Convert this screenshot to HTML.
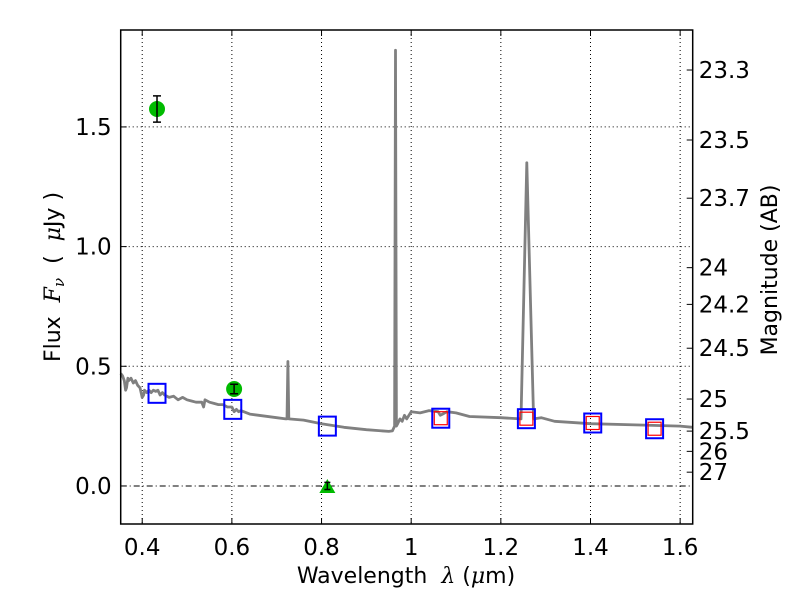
<!DOCTYPE html>
<html><head><meta charset="utf-8"><style>
body{margin:0;background:#fff;}
svg text{font-family:"DejaVu Sans","Liberation Sans",sans-serif;fill:#000;white-space:pre;}
</style></head><body>
<svg id="chart" width="800" height="600" viewBox="0 0 800 600" xmlns="http://www.w3.org/2000/svg">
<rect width="800" height="600" fill="#fff"/>
<g id="grid"></g>
<g id="spec"></g>
<g id="marks"></g>
<g id="axes"></g>
</svg>
<script>
const xTicks=[0.4,0.6,0.8,1.0,1.2,1.4,1.6];
const xTickLabels=["0.4","0.6","0.8","1","1.2","1.4","1.6"];
const yTicks=[0,0.5,1.0,1.5];
const yTickLabels=["0.0","0.5","1.0","1.5"];
const magTicks=[23.3,23.5,23.7,24,24.2,24.5,25,25.5,26,27];
const magTickLabels=["23.3","23.5","23.7","24","24.2","24.5","25","25.5","26","27"];
const specLam=[0.352,0.356,0.36,0.363,0.365,0.368,0.37,0.375,0.38,0.385,0.39,0.395,0.40,0.403,0.405,0.41,0.415,0.42,0.425,0.43,0.435,0.44,0.445,0.45,0.46,0.47,0.48,0.49,0.50,0.51,0.52,0.533,0.537,0.54,0.55,0.56,0.57,0.58,0.59,0.60,0.605,0.61,0.615,0.62,0.64,0.66,0.70,0.72,0.723,0.725,0.727,0.76,0.80,0.85,0.90,0.95,0.958,0.963,0.965,0.967,0.97,0.975,0.98,0.985,0.99,1.0,1.02,1.04,1.06,1.065,1.07,1.08,1.1,1.13,1.2,1.245,1.258,1.273,1.29,1.32,1.4,1.5,1.6,1.628];
const specFlux=[0.47,0.46,0.44,0.40,0.41,0.45,0.44,0.45,0.43,0.44,0.42,0.41,0.37,0.38,0.40,0.39,0.40,0.39,0.40,0.395,0.40,0.38,0.39,0.38,0.37,0.375,0.36,0.37,0.36,0.355,0.35,0.35,0.33,0.36,0.35,0.345,0.34,0.34,0.33,0.33,0.31,0.32,0.31,0.315,0.30,0.295,0.285,0.28,0.28,0.52,0.28,0.275,0.26,0.245,0.235,0.228,0.23,0.25,1.82,0.25,0.26,0.28,0.27,0.295,0.28,0.31,0.305,0.315,0.31,0.295,0.30,0.31,0.305,0.29,0.285,0.28,1.35,0.28,0.285,0.27,0.26,0.255,0.25,0.245];
const detLam=[0.433,0.605];
const detFlux=[1.575,0.405];
const detErr=[0.055,0.02];
const ulLam=[0.813];
const ulFlux=[0.0];
const ulErr=[0.015];
const modelLam=[0.433,0.602,0.813,1.066,1.257,1.405,1.543];
const modelFlux=[0.387,0.32,0.25,0.283,0.281,0.263,0.239];
const obsLam=[1.066,1.257,1.405,1.543];
const obsFlux=[0.283,0.281,0.263,0.239];

const L=120.7,R=692.7,T=30,B=524;
const xMin=0.352,xMax=1.628,yMin=-0.159,yMax=1.905;
const X=v=>L+(v-xMin)/(xMax-xMin)*(R-L);
const Y=v=>B-(v-yMin)/(yMax-yMin)*(B-T);
const magToFlux=m=>Math.pow(10,(23.9-m)/2.5);
const NS="http://www.w3.org/2000/svg";
function mk(tag,attrs,parent,txt){const e=document.createElementNS(NS,tag);for(const k in attrs)e.setAttribute(k,attrs[k]);if(txt!==undefined)e.textContent=txt;parent.appendChild(e);return e;}
const grid=document.getElementById('grid'),spec=document.getElementById('spec'),marks=document.getElementById('marks'),axes=document.getElementById('axes');

xTicks.forEach((t,i)=>{
  const g=mk('line',{x1:X(t),x2:X(t),y1:T,y2:B,stroke:'#000','stroke-width':1,'stroke-dasharray':'1,3'},grid);
  
  
  mk('line',{x1:X(t),x2:X(t),y1:B,y2:B-6,stroke:'#000'},axes);
  mk('line',{x1:X(t),x2:X(t),y1:T,y2:T+6,stroke:'#000'},axes);
  const tx=mk('text',{x:X(t),y:B+31,'font-size':23,'text-anchor':'middle'},axes,xTickLabels[i]);
  
  
});
yTicks.forEach((t,i)=>{
  const g=mk('line',{x1:L,x2:R,y1:Y(t),y2:Y(t),stroke:'#000','stroke-width':1,'stroke-dasharray':t===0?'6,3,1,3':'1,3'},grid);
  
  
  mk('line',{x1:L,x2:L+6,y1:Y(t),y2:Y(t),stroke:'#000'},axes);
  const tx=mk('text',{x:L-9,y:Y(t)+8,'font-size':23,'text-anchor':'end'},axes,yTickLabels[i]);
  
  
});
magTicks.forEach((m,i)=>{
  const y=Y(magToFlux(m));
  mk('line',{x1:R,x2:R-6,y1:y,y2:y,stroke:'#000'},axes);
  const tx=mk('text',{x:R+6,y:y+8,'font-size':23},axes,magTickLabels[i]);
  
  
});

let d='';
specLam.forEach((l,i)=>{d+=(i?'L':'M')+X(l).toFixed(1)+','+Y(specFlux[i]).toFixed(1);});
const sp=mk('path',{d:d,fill:'none',stroke:'#808080','stroke-width':2.8,'stroke-linejoin':'round'},spec);



modelLam.forEach((l,i)=>{
  const r=mk('rect',{x:X(l)-8.5,y:Y(modelFlux[i])-9.5,width:17,height:19,fill:'none',stroke:'#0000ff','stroke-width':2},marks);
  
  
});
obsLam.forEach((l,i)=>{
  const r=mk('rect',{x:X(l)-6.5,y:Y(obsFlux[i])-6.5,width:13,height:13,fill:'none',stroke:'#ff0000','stroke-width':1.2},marks);
  
  
});
detLam.forEach((l,i)=>{
  const c=mk('circle',{cx:X(l),cy:Y(detFlux[i]),r:8,fill:'#00bb00'},marks);
  
  
  const x=X(l),y1=Y(detFlux[i]+detErr[i]),y2=Y(detFlux[i]-detErr[i]);
  mk('path',{d:`M${x},${y1}V${y2}M${x-4},${y1}H${x+4}M${x-4},${y2}H${x+4}`,stroke:'#000','stroke-width':1.5,fill:'none'},marks);
});
ulLam.forEach((l,i)=>{
  const x=X(l),y=Y(ulFlux[i]);
  const p=mk('polygon',{points:`${x-8},${y+7} ${x+8},${y+7} ${x},${y-7}`,fill:'#00bb00'},marks);
  
  
  const y1=Y(ulFlux[i]+ulErr[i]),y2=Y(ulFlux[i]-ulErr[i]);
  mk('path',{d:`M${x},${y1}V${y2}M${x-3},${y1}H${x+3}M${x-3},${y2}H${x+3}`,stroke:'#000','stroke-width':1.5,fill:'none'},marks);
});

const fr=mk('rect',{x:L,y:T,width:R-L,height:B-T,fill:'none',stroke:'#000','stroke-width':1.5},axes);


const xl=mk('text',{x:406,y:583,'font-size':22,'text-anchor':'middle'},axes);
xl.innerHTML='Wavelength  <tspan font-style="italic" font-family="DejaVu Serif, serif">λ</tspan> (<tspan font-style="italic" font-family="DejaVu Serif, serif">μ</tspan>m)';


const yl=mk('text',{x:0,y:0,'font-size':22,'text-anchor':'middle',transform:'translate(60,277) rotate(-90)'},axes);
yl.innerHTML='Flux  <tspan font-style="italic" font-family="DejaVu Serif, serif">F</tspan><tspan font-style="italic" font-size="15" dy="4" font-family="DejaVu Serif, serif">ν</tspan><tspan dy="-4">  (  </tspan><tspan font-style="italic" font-family="DejaVu Serif, serif">μ</tspan>Jy )';


const ml=mk('text',{x:0,y:0,'font-size':22,'text-anchor':'middle',transform:'translate(777,270) rotate(-90)'},axes,'Magnitude (AB)');


</script>
</body></html>
